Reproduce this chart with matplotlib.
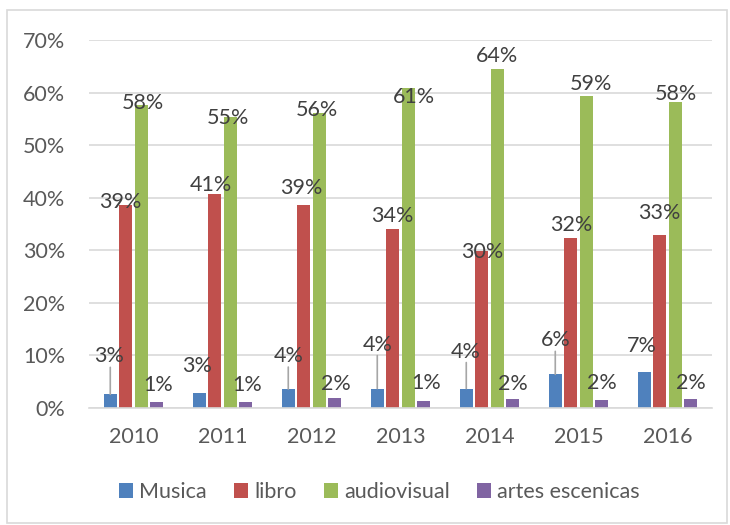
import matplotlib.pyplot as plt
import numpy as np
from matplotlib.patches import Rectangle

plt.rcParams['font.family'] = ['Lato', 'DejaVu Sans']

years = ['2010', '2011', '2012', '2013', '2014', '2015', '2016']
series = ['Musica', 'libro', 'audiovisual', 'artes escenicas']

musica = [2.6, 2.8, 3.6, 3.7, 3.7, 6.4, 6.9]
libro = [38.7, 40.8, 38.6, 34.1, 29.9, 32.4, 33.0]
audiovisual = [57.6, 55.3, 56.1, 60.8, 64.4, 59.4, 58.2]
artes = [1.2, 1.1, 1.9, 1.3, 1.8, 1.6, 1.8]

colors = ['#4F81BD', '#C0504D', '#9BBB59', '#8064A2']

# label placement (pixels from bar top centre), like Excel moved them
label_dx = [
    [-1, -2, 0, 0, -1, 0, -2],
    [-5, -4, -2, 0, 0, 0, 0],
    [2, -2, -2, 6, 0, 5, 1],
    [1, 1, 1, 2, 0, 0, 0],
]
label_dy = [
    [38, 27, 33, 44, 37, 34, 26],
    [3, 9, 17, 13, -1.5, 13, 22],
    [2, -1, 3, -9, 13.5, 12, 8],
    [17, 17, 14, 18, 15, 17, 16],
]
leader = [True, False, True, True, True, True, False]

fig = plt.figure(figsize=(7.3, 5.25), dpi=100)
ax = fig.add_axes([89 / 730, 117 / 525, 623 / 730, 368 / 525])

# chart border
fig.patches.append(Rectangle((7 / 730, 2 / 525), 720 / 730, 513 / 525,
                             transform=fig.transFigure, fill=False,
                             edgecolor='#D9D9D9', linewidth=1.2))

x = np.arange(len(years))
slot = 0.174
width = 0.148
data = [musica, libro, audiovisual, artes]

for i, vals in enumerate(data):
    pos = x + (i - 1.5) * slot
    ax.bar(pos, np.array(vals) / 100, width, color=colors[i], label=series[i],
           zorder=3)
    for j, v in enumerate(vals):
        ax.annotate(f'{round(v)}%', (pos[j], v / 100),
                    xytext=(label_dx[i][j], label_dy[i][j]),
                    textcoords='offset pixels', ha='center', va='center',
                    fontsize=15.5, color='#404040', zorder=5)
        if i == 0 and leader[j]:
            top_px = label_dy[i][j] - 11
            ax.annotate('', (pos[j], v / 100), xytext=(0, top_px),
                        textcoords='offset pixels',
                        arrowprops=dict(arrowstyle='-', color='#A6A6A6',
                                        lw=1.2, shrinkA=0, shrinkB=0))

ax.set_xlim(-0.5, len(years) - 0.5)
ax.set_ylim(0, 0.7)
ax.set_yticks(np.arange(0, 0.71, 0.1))
ax.set_yticklabels([f'{int(round(t * 100))}%' for t in np.arange(0, 0.71, 0.1)])
ax.set_xticks(x)
ax.set_xticklabels(years)
ax.tick_params(axis='both', length=0, labelsize=15.5, labelcolor='#595959')
ax.tick_params(axis='y', pad=17)
ax.tick_params(axis='x', pad=14)

ax.grid(axis='y', color='#D9D9D9', linewidth=1.2, zorder=0)
for s in ['top', 'right', 'left']:
    ax.spines[s].set_visible(False)
ax.spines['bottom'].set_color('#D9D9D9')
ax.spines['bottom'].set_linewidth(1.2)
ax.spines['bottom'].set_zorder(4)

leg = fig.legend(loc='center', bbox_to_anchor=(379.5 / 730, 1 - 492 / 525),
                 ncol=4, frameon=False, fontsize=15.5, handlelength=0.65,
                 handleheight=0.65, handletextpad=0.3, columnspacing=1.25)
for t in leg.get_texts():
    t.set_color('#595959')

fig.savefig('out.png', dpi=100)
